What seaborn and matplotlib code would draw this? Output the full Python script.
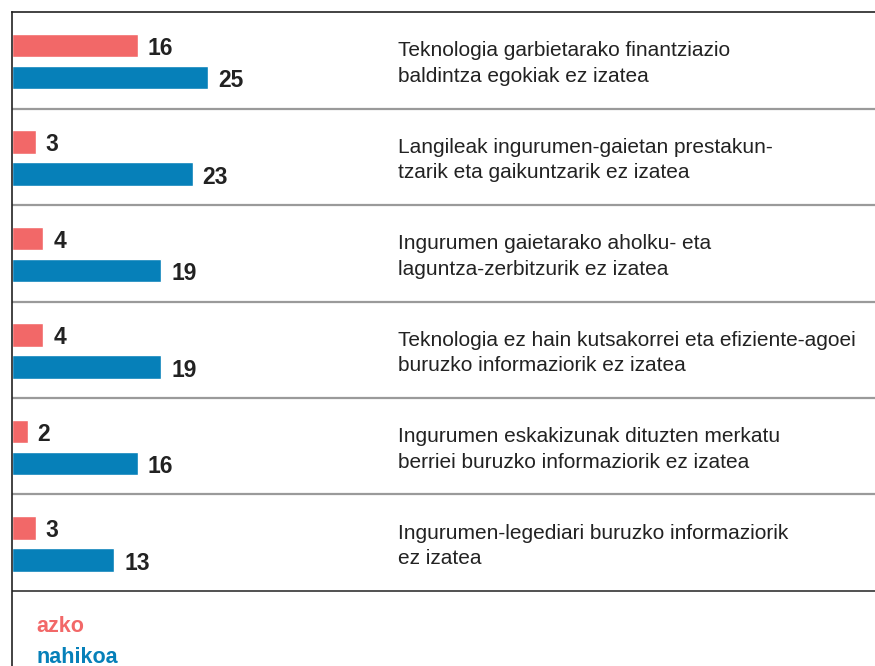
import pandas as pd
import numpy as np
import matplotlib.pyplot as plt
import seaborn as sns

# Datuak
categories = [
    "Teknologia garbietarako finantziazio\nbaldintza egokiak ez izatea",
    "Langileak ingurumen-gaietan prestakun-\ntzarik eta gaikuntzarik ez izatea",
    "Ingurumen gaietarako aholku- eta\nlaguntza-zerbitzurik ez izatea",
    "Teknologia ez hain kutsakorrei eta efiziente-agoei\nburuzko informaziorik ez izatea",
    "Ingurumen eskakizunak dituzten merkatu\nberriei buruzko informaziorik ez izatea",
    "Ingurumen-legediari buruzko informaziorik\nez izatea",
]
azko = [16, 3, 4, 4, 2, 3]
nahikoa = [25, 23, 19, 19, 16, 13]
series_names = ["azko", "nahikoa"]
colors = ["#f26868", "#0680b9"]

df = pd.DataFrame({
    "kategoria": categories * 2,
    "balioa": azko + nahikoa,
    "serie": [series_names[0]] * len(azko) + [series_names[1]] * len(nahikoa),
})

sns.set_style("white")
plt.rcParams["font.family"] = ["Liberation Sans", "DejaVu Sans"]

W, H = 875, 666
fig = plt.figure(figsize=(W / 100, H / 100), dpi=100)
# axes from x=12px to right edge, y=12px to bottom edge
ax = fig.add_axes([12 / W, 0, 1 - 12 / W, 1 - 12 / H])

sns.barplot(data=df, x="balioa", y="kategoria", hue="serie", order=categories,
            hue_order=series_names, palette=colors, orient="h",
            width=0.664, gap=0.28, legend=False, ax=ax, saturation=1)

px_per_unit = 7.85
ax.set_xlim(0, (W - 12) / px_per_unit)
row_px = 96.5
top = -0.513
ax.set_ylim(top + (H - 12) / row_px, top)

ax.set_xticks([])
ax.set_yticks([])
ax.set_xlabel("")
ax.set_ylabel("")
for s in ["right", "bottom"]:
    ax.spines[s].set_visible(False)
ax.spines["left"].set_color("#222222")
ax.spines["left"].set_linewidth(1.2)
ax.spines["top"].set_color("#222222")
ax.spines["top"].set_linewidth(1.2)

# separators
n = len(categories)
for i in range(n - 1):
    ax.axhline(i + 0.487, color="#9a9a9a", lw=1.6)
ax.axhline(n - 1 + 0.487, color="#333333", lw=1.2)

# value labels
for cont in ax.containers:
    for rect in cont:
        w = rect.get_width()
        yc = rect.get_y() + rect.get_height() / 2
        ax.annotate(f"{int(w)}", xy=(w, yc), xytext=(10, -3), textcoords="offset pixels",
                    ha="left", va="center", fontsize=16.5, fontweight="bold", color="#222222")

# category labels
tr = ax.get_yaxis_transform()
for i, cat in enumerate(categories):
    ax.text((398 - 12) / (W - 12), i + 0.02, cat, transform=tr, ha="left", va="center",
            fontsize=15, color="#222222", linespacing=1.45)

# legend texts
ax.text((36 - 12) / (W - 12), top + (627 - 12) / row_px, series_names[0], transform=tr,
        ha="left", va="center", fontsize=15.5, fontweight="bold", color=colors[0])
ax.text((36 - 12) / (W - 12), top + (658 - 12) / row_px, series_names[1], transform=tr,
        ha="left", va="center", fontsize=15.5, fontweight="bold", color=colors[1])

fig.savefig("out.png", dpi=100)
